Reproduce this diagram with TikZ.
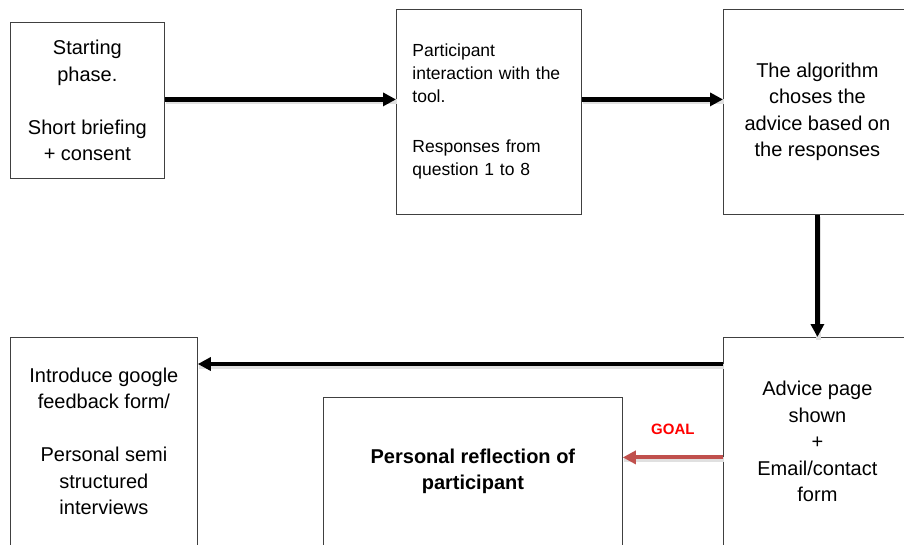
\documentclass[tikz,border=0pt]{standalone}
\usepackage{fontspec}
\setmainfont{Liberation Sans}
\usetikzlibrary{arrows.meta}
\definecolor{boxgray}{HTML}{404040}
\definecolor{goalred}{HTML}{C0504D}
\definecolor{goaltext}{HTML}{FF0000}
\begin{document}
\begin{tikzpicture}[x=1pt,y=-1pt,
  box/.style={draw=boxgray, line width=0.8pt, anchor=north west, inner sep=0pt,
    font=\fontsize{20}{26.5}\selectfont, align=center},
  shade line/.style={preaction={draw=black!12, line width=5pt, -, transform canvas={yshift=-2.5pt,xshift=1pt}}},
  arr/.style={line width=4.2pt, shade line, -{Triangle[length=13pt,width=13pt]}},
  goalarr/.style={goalred, line width=4pt, shade line, -{Triangle[length=13pt,width=13pt]}}]
\useasboundingbox (0,0) rectangle (904,544);
\clip (0,0) rectangle (904,544);
\node[box, minimum width=154pt, minimum height=156pt] (start) at (10,22)
  {Starting\\ phase.\\[26.5pt] Short briefing\\ + consent};
\node[box, minimum width=185pt, minimum height=205pt, align=left,
  font=\fontsize{17.5}{23}\selectfont, text width=153pt] (tool) at (396,9)
  {Participant\\ interaction with the\\ tool.\\[27pt] Responses from\\ question 1 to 8};
\node[box, minimum width=188pt, minimum height=205pt] (algo) at (723,9)
  {The algorithm\\ choses the\\ advice based on\\ the responses};
\node[box, minimum width=188pt, minimum height=208pt] (adv) at (723,337)
  {Advice page\\ shown\\ +\\ Email/contact\\ form};
\node[box, minimum width=187pt, minimum height=208pt] (intro) at (10,337)
  {Introduce google\\ feedback form/\\[26.5pt] Personal semi\\ structured\\ interviews};
\node[box, minimum width=299pt, minimum height=148pt, font=\fontsize{20}{26.5}\selectfont\bfseries] (pers) at (323,397)
  {Personal reflection of\\ participant};
\draw[arr] ([yshift=1pt]start.east) -- ([yshift=1pt]start.east -| tool.west);
\draw[arr] ([yshift=12.5pt]tool.east) -- ([yshift=12.5pt]algo.west);
\draw[arr] (algo.south) -- (adv.north);
\draw[arr] ([yshift=-27pt]adv.north west) -- ([yshift=-27pt]intro.north east);
\draw[goalarr] ([yshift=-16pt]adv.west) -- ([yshift=-16pt]adv.west -| pers.east)
  node[midway, yshift=28pt, text=goaltext, font=\fontsize{15}{18}\selectfont\bfseries] (goal) {GOAL};
\end{tikzpicture}
\end{document}
